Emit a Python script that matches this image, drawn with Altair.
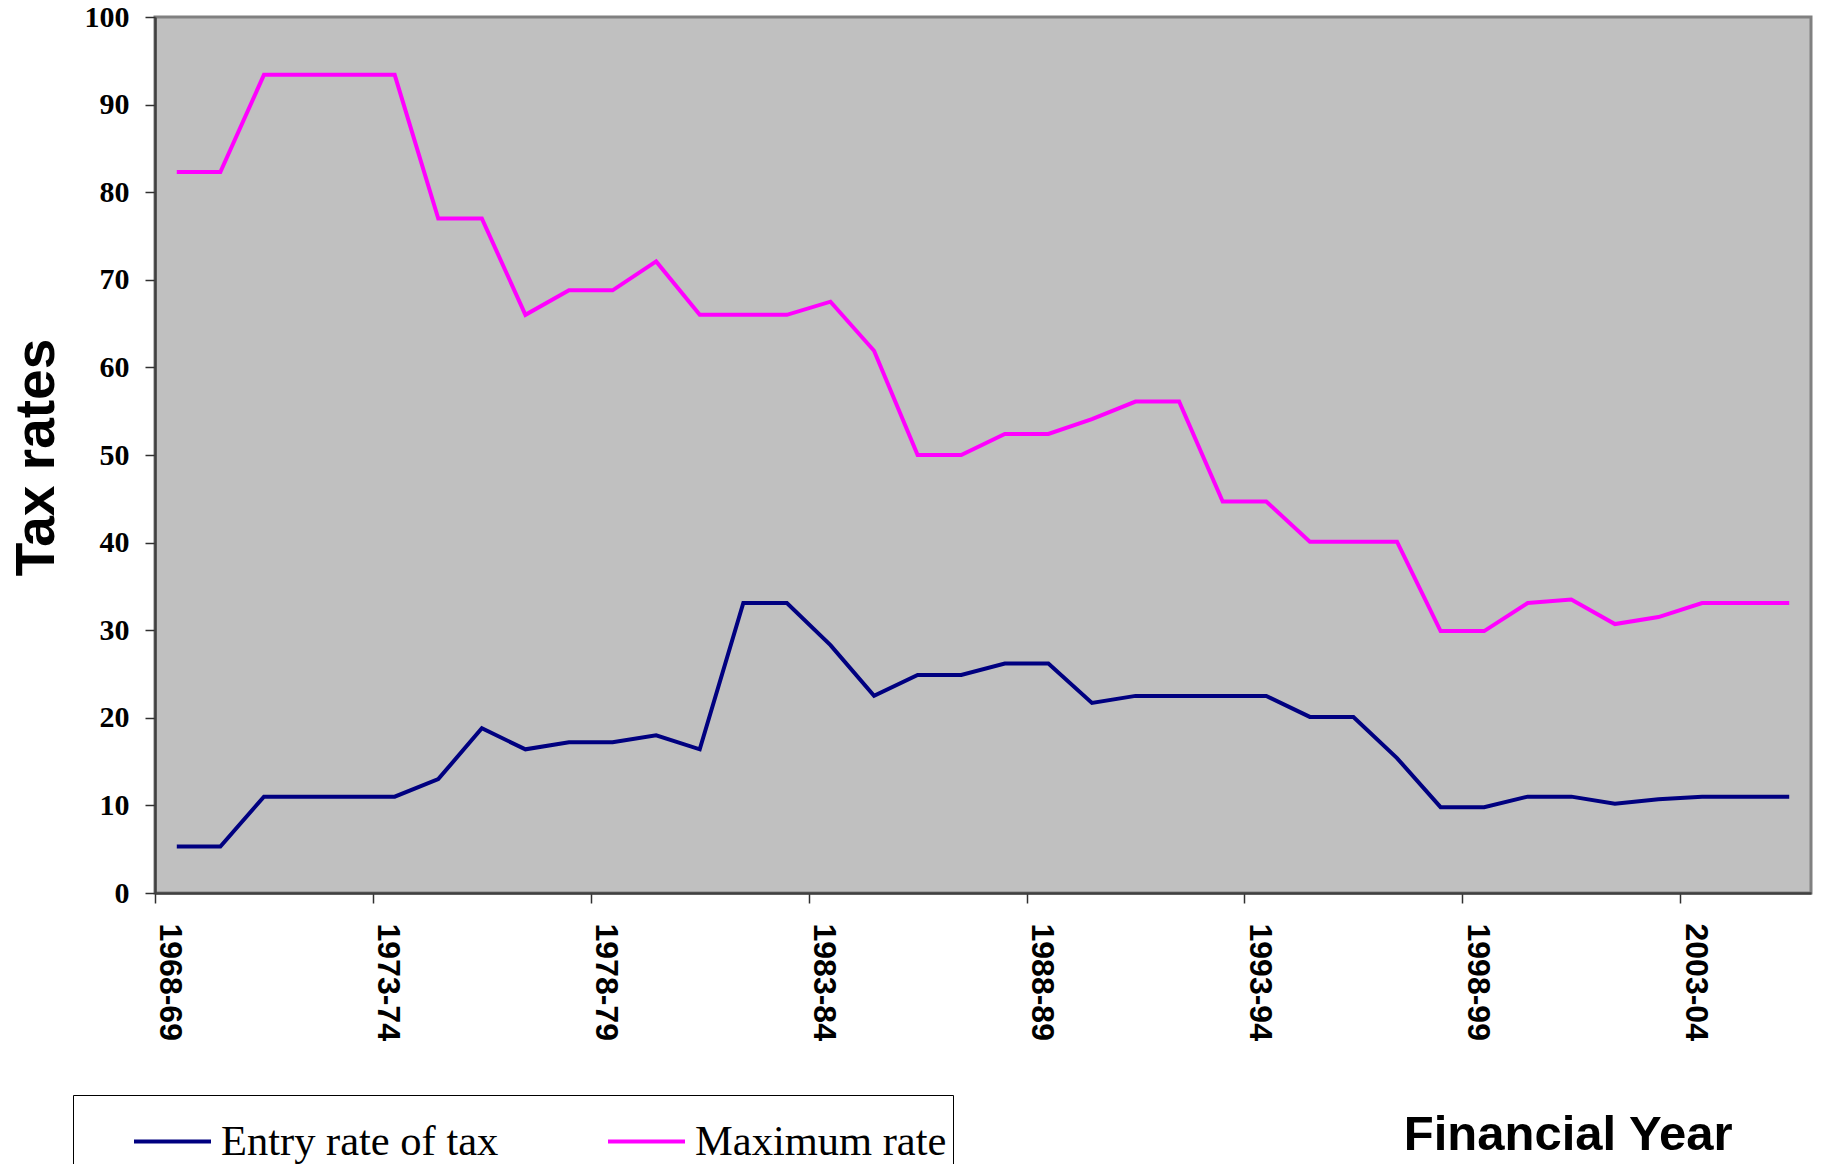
import altair as alt
import pandas as pd

years = [
    "1968-69", "1969-70", "1970-71", "1971-72", "1972-73", "1973-74", "1974-75", "1975-76",
    "1976-77", "1977-78", "1978-79", "1979-80", "1980-81", "1981-82", "1982-83", "1983-84",
    "1984-85", "1985-86", "1986-87", "1987-88", "1988-89", "1989-90", "1990-91", "1991-92",
    "1992-93", "1993-94", "1994-95", "1995-96", "1996-97", "1997-98", "1998-99", "1999-00",
    "2000-01", "2001-02", "2002-03", "2003-04", "2004-05", "2005-06",
]

entry_rate = [
    5.3, 5.3, 11.0, 11.0, 11.0, 11.0, 13.0, 18.8,
    16.4, 17.2, 17.2, 18.0, 16.4, 33.1, 33.1, 28.3,
    22.5, 24.9, 24.9, 26.2, 26.2, 21.7, 22.5, 22.5,
    22.5, 22.5, 20.1, 20.1, 15.4, 9.8, 9.8, 11.0,
    11.0, 10.2, 10.7, 11.0, 11.0, 11.0,
]

maximum_rate = [
    82.3, 82.3, 93.4, 93.4, 93.4, 93.4, 77.0, 77.0,
    66.0, 68.8, 68.8, 72.1, 66.0, 66.0, 66.0, 67.5,
    61.9, 50.0, 50.0, 52.4, 52.4, 54.1, 56.1, 56.1,
    44.7, 44.7, 40.1, 40.1, 40.1, 29.9, 29.9, 33.1,
    33.5, 30.7, 31.5, 33.1, 33.1, 33.1,
]

series_names = ["Entry rate of tax", "Maximum rate"]
series_colors = ["#000080", "#FF00FF"]
y_ticks = list(range(0, 101, 10))
x_label_years = years[::5]

df = pd.concat([
    pd.DataFrame({"year": years, "rate": entry_rate, "series": series_names[0]}),
    pd.DataFrame({"year": years, "rate": maximum_rate, "series": series_names[1]}),
])

W, H = 1656, 876
PAD_L, PAD_T = 155, 17
step = W / len(years)

chart = alt.Chart(df).mark_line(strokeWidth=4).encode(
    x=alt.X(
        "year:O",
        sort=years,
        scale=alt.Scale(type="point", padding=0.5),
        axis=alt.Axis(
            values=x_label_years,
            labelAngle=90,
            tickOffset=-step / 2,
            labelOffset=step / 2 - 7,
            tickSize=10,
            tickWidth=1.5,
            tickColor="#303030",
            labelPadding=20,
            labelFont="Liberation Sans",
            labelFontSize=32,
            labelFontWeight="bold",
            labelColor="black",
            domainColor="#404040",
            domainWidth=2.5,
            grid=False,
            title="Financial Year",
            titleFont="Liberation Sans",
            titleFontSize=49,
            titleFontWeight="bold",
            titleColor="black",
            titleAngle=0,
            titleAlign="right",
            titleBaseline="alphabetic",
            titleX=1732 - PAD_L,
            titleY=1149 - (PAD_T + H),
        ),
    ),
    y=alt.Y(
        "rate:Q",
        scale=alt.Scale(domain=[0, 100], nice=False, zero=True),
        axis=alt.Axis(
            values=y_ticks,
            tickSize=10,
            tickWidth=1.5,
            tickColor="#303030",
            labelPadding=16,
            labelFont="Liberation Serif",
            labelFontSize=30,
            labelFontWeight="bold",
            labelColor="black",
            domainColor="#404040",
            domainWidth=2.5,
            grid=False,
            title="Tax rates",
            titleFont="Liberation Sans",
            titleFontSize=55,
            titleFontWeight="bold",
            titleColor="black",
            titleAngle=270,
            titleAlign="center",
            titleBaseline="top",
            titleX=10 - PAD_L,
            titleY=H / 2 + 2,
        ),
    ),
    color=alt.Color(
        "series:N",
        scale=alt.Scale(domain=series_names, range=series_colors),
        legend=alt.Legend(
            orient="none",
            legendX=73 - PAD_L,
            legendY=1095 - PAD_T,
            direction="horizontal",
            title=None,
            symbolType="stroke",
            symbolSize=77 * 77,
            symbolStrokeWidth=4,
            symbolOffset=53,
            labelFont="Liberation Serif",
            labelFontSize=42.5,
            labelColor="black",
            labelLimit=600,
            labelOffset=8,
            columnPadding=54,
            padding=6,
            strokeColor="black",
            fillColor="white",
            cornerRadius=0,
        ),
    ),
).properties(
    width=W,
    height=H,
    autosize=alt.AutoSizeParams(type="none"),
    padding={"left": PAD_L, "top": PAD_T, "right": 1822 - PAD_L - W, "bottom": 1164 - PAD_T - H},
    background="white",
).configure_view(
    fill="#C0C0C0",
    stroke="#808080",
    strokeWidth=3,
)

chart.save("out.html", embed_options={"renderer": "svg", "actions": False})
